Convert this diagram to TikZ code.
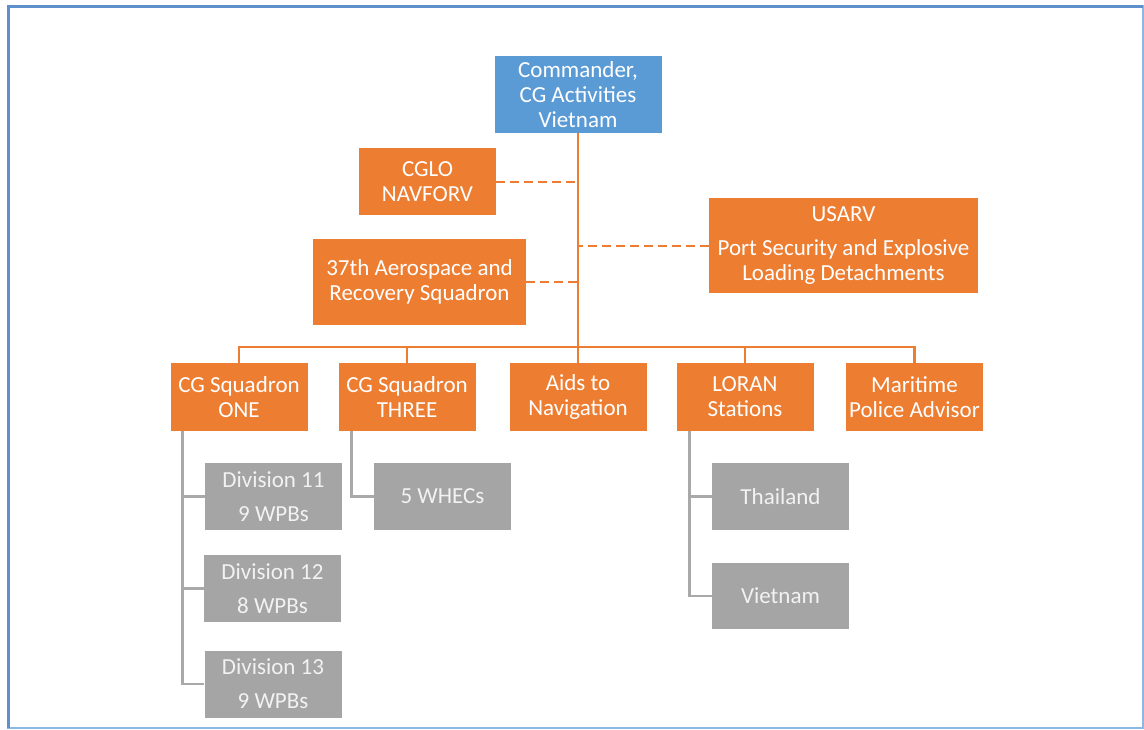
\documentclass[tikz,border=0pt]{standalone}
\usepackage{fontspec}
\setmainfont{Carlito}
\definecolor{orgorange}{HTML}{ED7D31}
\definecolor{orgblue}{HTML}{5B9BD5}
\definecolor{orggrey}{HTML}{A5A5A5}
\definecolor{lineGrey}{HTML}{A9A9A9}
\definecolor{frameblue}{HTML}{5E90CC}
\definecolor{framelight}{HTML}{8DB8E6}
\begin{document}
\begin{tikzpicture}[x=1pt,y=-1pt,
  box/.style={rectangle,inner sep=0pt,align=center,text=white,
    font=\fontsize{23}{25}\selectfont},
  obox/.style={box,fill=orgorange},
  bbox/.style={box,fill=orgblue},
  gbox/.style={box,fill=orggrey,text=white!95!black,font=\fontsize{23}{34}\selectfont,
    minimum width=137pt,minimum height=67pt},
  sqbox/.style={obox,minimum width=137pt,minimum height=68pt},
  solidlink/.style={draw=orgorange,line width=2.5pt},
  dashlink/.style={draw=orgorange,line width=2pt,dash pattern=on 9pt off 5pt},
  greylink/.style={draw=lineGrey,line width=2.5pt}]
\useasboundingbox (0,0) rectangle (1144,729);
\fill[white] (0,0) rectangle (1144,729);
\draw[framelight,line width=2pt] (8,6) rectangle (1142.5,727.5);
\draw[frameblue,line width=3pt] (8,727.5) -- (8,6) -- (1142.5,6);

\node[bbox,minimum width=167pt,minimum height=77pt] (cmd) at (578,94.5)
  {Commander,\\CG Activities\\Vietnam};
\node[obox,minimum width=137pt,minimum height=67pt] (cglo) at (427.5,181.5)
  {CGLO\\NAVFORV};
\node[obox,minimum width=213pt,minimum height=86pt] (arrs) at (419.5,282)
  {37th Aerospace and\\Recovery Squadron};
\node[obox,minimum width=269pt,minimum height=95pt] (usarv) at (843.5,245.5)
  {USARV\\[9pt]Port Security and Explosive\\Loading Detachments};

\node[sqbox] (sq1) at (239,397) {CG Squadron\\ONE};
\node[sqbox] (sq3) at (407,397) {CG Squadron\\THREE};
\node[sqbox] (aids) at (578,397) {Aids to\\Navigation};
\node[sqbox] (loran) at (745,397) {LORAN\\Stations};
\node[sqbox] (mpa) at (914.5,397) {Maritime\\Police Advisor};

\node[gbox] (d11) at (273.5,496.5) {Division 11\\9 WPBs};
\node[gbox] (d12) at (272.5,588.5) {Division 12\\8 WPBs};
\node[gbox] (d13) at (273,684) {Division 13\\9 WPBs};
\node[gbox] (whec) at (442.5,496.5) {5 WHECs};
\node[gbox] (thai) at (780.5,496.5) {Thailand};
\node[gbox,minimum height=66pt] (viet) at (780.5,596) {Vietnam};

\coordinate (bus) at (578,347);
\draw[solidlink] (cmd.south) -- (aids.north);
\draw[solidlink] (sq1.north) -- (sq1.north |- bus) -- (mpa.north |- bus) -- (mpa.north);
\draw[solidlink] (sq3.north) -- (sq3.north |- bus);
\draw[solidlink] (loran.north) -- (loran.north |- bus);

\draw[dashlink] (cglo.east) -- (cglo.east -| cmd.south);
\draw[dashlink] (arrs.east) -- (arrs.east -| cmd.south);
\draw[dashlink] (usarv.west) -- (usarv.west -| cmd.south);

\coordinate (s1) at ([xshift=12pt]sq1.south west);
\coordinate (s3) at ([xshift=13pt]sq3.south west);
\coordinate (s4) at ([xshift=13pt]loran.south west);
\draw[greylink] (s1) |- (d13.west);
\draw[greylink] (s1 |- d11.west) -- (d11.west);
\draw[greylink] (s1 |- d12.west) -- (d12.west);
\draw[greylink] (s3) |- (whec.west);
\draw[greylink] (s4) |- (viet.west);
\draw[greylink] (s4 |- thai.west) -- (thai.west);
\end{tikzpicture}
\end{document}
